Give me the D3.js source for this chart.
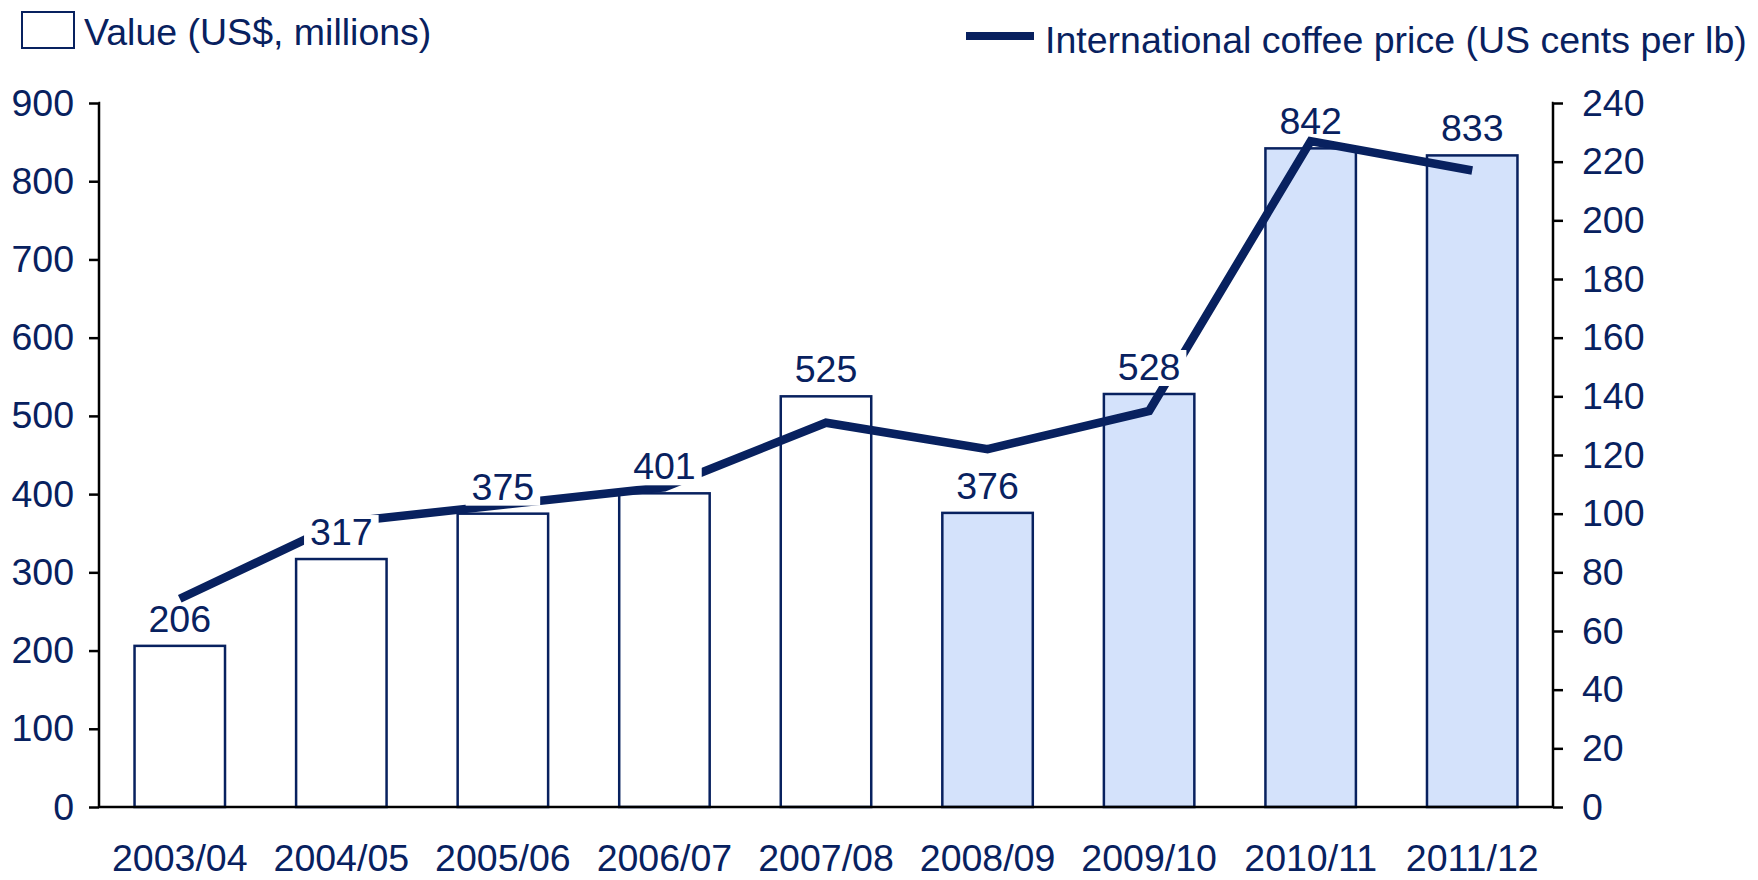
<!DOCTYPE html>
<html><head><meta charset="utf-8">
<script src="https://cdn.jsdelivr.net/npm/d3@7"></script>
<style>body{margin:0;background:#fff}svg{display:block}</style>
</head><body>
<svg id="c" width="1758" height="880"></svg>
<script>
const categories = ["2003/04","2004/05","2005/06","2006/07","2007/08","2008/09","2009/10","2010/11","2011/12"];
const values = [206,317,375,401,525,376,528,842,833];
const prices = [71,97,103,109,131,122,135,227,217];
const filled = [false,false,false,false,false,true,true,true,true];
const leftTicks = [0,100,200,300,400,500,600,700,800,900];
const rightTicks = [0,20,40,60,80,100,120,140,160,180,200,220,240];

const navy = "#08215f", fillBlue = "#d4e2fb";
const font = "Liberation Sans, Arial, sans-serif";
const fs = 37.5;
const svg = d3.select("#c");
const L = 99, R = 1553, T = 103, B = 807;

const x = d3.scaleBand().domain(categories).range([L, R]).paddingInner(0.44).paddingOuter(0.22);
const yL = d3.scaleLinear().domain([0, 900]).range([B, T]);
const yR = d3.scaleLinear().domain([0, 240]).range([B, T]);

// bars
svg.append("g").selectAll("rect").data(categories).join("rect")
  .attr("x", d => x(d)).attr("width", x.bandwidth())
  .attr("y", (d,i) => yL(values[i])).attr("height", (d,i) => B - yL(values[i]))
  .attr("fill", (d,i) => filled[i] ? fillBlue : "#fff")
  .attr("stroke", navy).attr("stroke-width", 2.5);

// line
const line = d3.line().x((d,i) => x(categories[i]) + x.bandwidth()/2).y(d => yR(d));
svg.append("path").datum(prices).attr("d", line)
  .attr("fill", "none").attr("stroke", navy).attr("stroke-width", 8.5).attr("stroke-linejoin", "miter");

// value labels with white backgrounds
const lab = svg.append("g");
categories.forEach((c,i) => {
  const cx = x(c) + x.bandwidth()/2, by = yL(values[i]) - 14;
  const t = lab.append("text").attr("x", cx).attr("y", by).attr("text-anchor", "middle")
    .attr("font-family", font).attr("font-size", fs).attr("fill", navy).text(values[i]);
  const bb = t.node().getBBox();
  if (i > 0 && i < 7) {
    lab.insert("rect", "text").attr("x", bb.x - 6).attr("y", bb.y + 4).attr("width", bb.width + 12).attr("height", bb.height - 6).attr("fill", "#fff");
  }
});
lab.selectAll("text").raise();

// axes
const axL = d3.axisLeft(yL).tickValues(leftTicks).tickSize(10).tickPadding(15);
const gL = svg.append("g").attr("transform", `translate(${L},0)`).call(axL);
const axR = d3.axisRight(yR).tickValues(rightTicks).tickSize(10).tickPadding(19);
const gR = svg.append("g").attr("transform", `translate(${R},0)`).call(axR);
const axB = d3.axisBottom(x).tickSize(0).tickPadding(37);
const gB = svg.append("g").attr("transform", `translate(0,${B})`).call(axB);
[gL, gR, gB].forEach(g => {
  g.select(".domain").attr("stroke", "#000").attr("stroke-width", 2.5);
  g.selectAll(".tick line").attr("stroke", "#000").attr("stroke-width", 2.5);
  g.selectAll("text").attr("font-family", font).attr("font-size", fs).attr("fill", navy);
});
gL.select(".domain").attr("d", `M-0.5,${T}H0V${B}`);
gR.select(".domain").attr("d", `M0.5,${T}H0V${B}`);
gB.select(".domain").attr("d", `M${L},0H${R}`);
gB.selectAll("text").attr("dy", "0.71em");

// legend
svg.append("rect").attr("x", 22).attr("y", 12).attr("width", 52).attr("height", 36)
  .attr("fill", "#fff").attr("stroke", navy).attr("stroke-width", 2);
svg.append("text").attr("x", 84).attr("y", 45).attr("font-family", font).attr("font-size", fs).attr("fill", navy)
  .text("Value (US$, millions)");
svg.append("line").attr("x1", 966).attr("x2", 1034).attr("y1", 36).attr("y2", 36)
  .attr("stroke", navy).attr("stroke-width", 8);
svg.append("text").attr("x", 1045).attr("y", 53).attr("font-family", font).attr("font-size", fs).attr("fill", navy)
  .text("International coffee price (US cents per lb)");
</script>
</body></html>
